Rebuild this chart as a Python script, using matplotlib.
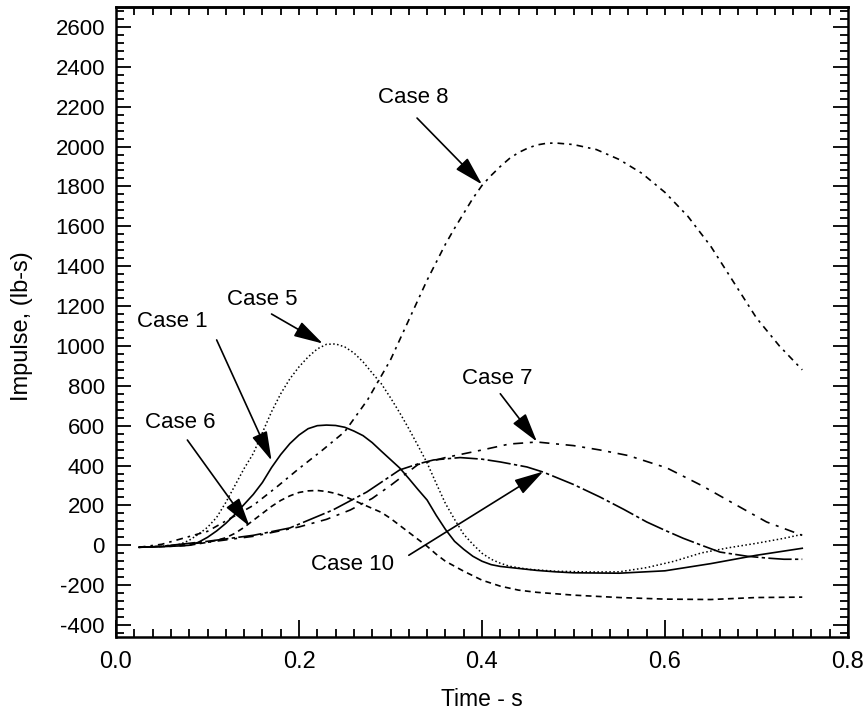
import numpy as np
import matplotlib
matplotlib.use("Agg")
import matplotlib.pyplot as plt
from matplotlib.ticker import MultipleLocator, NullFormatter

plt.rcParams["axes.unicode_minus"] = False

# ---- data: time (s) and impulse (lb-s) for each case ----
t_case1 = [0.025, 0.05, 0.07, 0.08, 0.09, 0.10, 0.11, 0.12, 0.13, 0.14, 0.15, 0.16, 0.17, 0.18, 0.19, 0.20,
           0.21, 0.22, 0.23, 0.24, 0.25, 0.26, 0.27, 0.28, 0.29, 0.30, 0.31, 0.32, 0.33, 0.34, 0.35, 0.36,
           0.37, 0.38, 0.39, 0.40, 0.41, 0.42, 0.44, 0.46, 0.48, 0.50, 0.55, 0.60, 0.65, 0.70, 0.75]
v_case1 = [-10, -7, -3, 0, 15, 40, 72, 110, 155, 205, 255, 315, 390, 455, 510, 553,
           585, 600, 603, 601, 592, 573, 550, 515, 472, 430, 388, 335, 280, 227, 150, 80,
           20, -20, -55, -80, -97, -106, -116, -126, -133, -138, -140, -128, -92, -50, -15]

t_case5 = [0.025, 0.05, 0.07, 0.08, 0.09, 0.10, 0.11, 0.12, 0.13, 0.14, 0.15, 0.16, 0.17, 0.18, 0.19, 0.20,
           0.21, 0.22, 0.23, 0.24, 0.25, 0.26, 0.27, 0.28, 0.29, 0.30, 0.31, 0.32, 0.33, 0.34, 0.35, 0.36,
           0.37, 0.38, 0.39, 0.40, 0.41, 0.42, 0.43, 0.45, 0.48, 0.52, 0.55, 0.58, 0.61, 0.64, 0.67, 0.70,
           0.73, 0.75]
v_case5 = [-10, -5, 5, 25, 55, 90, 140, 215, 300, 385, 460, 565, 670, 760, 835, 895,
           945, 985, 1008, 1010, 995, 965, 920, 864, 810, 740, 665, 585, 500, 413, 310, 210,
           130, 55, 5, -40, -70, -90, -105, -120, -130, -134, -133, -112, -80, -38, -12, 10,
           35, 55]

t_case6 = [0.025, 0.06, 0.08, 0.10, 0.11, 0.12, 0.13, 0.14, 0.15, 0.16, 0.17, 0.18, 0.19, 0.20, 0.21, 0.22,
           0.23, 0.24, 0.25, 0.26, 0.27, 0.28, 0.29, 0.30, 0.31, 0.32, 0.33, 0.34, 0.35, 0.36, 0.37, 0.38,
           0.40, 0.42, 0.44, 0.46, 0.50, 0.55, 0.60, 0.65, 0.70, 0.75]
v_case6 = [-10, -5, 0, 15, 25, 38, 60, 90, 125, 160, 195, 225, 248, 265, 273, 275,
           270, 260, 245, 225, 205, 185, 165, 135, 100, 65, 30, -5, -45, -80, -105, -130,
           -175, -205, -225, -236, -250, -262, -270, -272, -262, -260]

t_case7 = [0.025, 0.05, 0.10, 0.15, 0.20, 0.23, 0.256, 0.28, 0.30, 0.33, 0.36, 0.40, 0.43, 0.46, 0.50, 0.529,
           0.56, 0.602, 0.64, 0.674, 0.711, 0.75]
v_case7 = [-10, -5, 15, 45, 92, 130, 177, 235, 300, 405, 440, 478, 508, 518, 500, 478,
           450, 388, 300, 212, 117, 50]

t_case8 = [0.025, 0.05, 0.10, 0.125, 0.15, 0.175, 0.20, 0.225, 0.25, 0.275, 0.29, 0.30, 0.31, 0.32, 0.33, 0.34,
           0.35, 0.36, 0.37, 0.38, 0.39, 0.40, 0.41, 0.42, 0.43, 0.44, 0.45, 0.46, 0.47, 0.48, 0.50, 0.525,
           0.55, 0.575, 0.60, 0.625, 0.65, 0.675, 0.70, 0.725, 0.75]
v_case8 = [-10, 5, 70, 135, 200, 290, 385, 475, 570, 730, 850, 930, 1030, 1130, 1230, 1330,
           1420, 1510, 1590, 1665, 1740, 1805, 1855, 1900, 1940, 1970, 1992, 2008, 2016, 2018, 2010, 1985,
           1935, 1865, 1770, 1650, 1500, 1320, 1140, 1000, 880]

t_case10 = [0.025, 0.05, 0.10, 0.15, 0.19, 0.237, 0.274, 0.31, 0.33, 0.347, 0.376, 0.40, 0.42, 0.449, 0.467, 0.50,
            0.529, 0.555, 0.58, 0.60, 0.62, 0.64, 0.66, 0.69, 0.711, 0.73, 0.75]
v_case10 = [-10, -5, 20, 50, 87, 177, 267, 378, 408, 428, 440, 432, 418, 393, 367, 305,
            242, 180, 117, 75, 35, 0, -34, -55, -64, -70, -70]

x_ticks = [0.0, 0.2, 0.4, 0.6, 0.8]
x_tick_labels = ["0.0", "0.2", "0.4", "0.6", "0.8"]
y_ticks = list(range(-400, 2601, 200))

# annotation text, text position, arrow tail and arrow tip (data coordinates)
labels = ["Case 8", "Case 5", "Case 1", "Case 6", "Case 7", "Case 10"]
label_xy = [(0.325, 2244), (0.160, 1235), (0.061, 1125), (0.070, 618), (0.417, 839), (0.259, -94)]
arrow_from = [(0.329, 2143), (0.170, 1160), (0.110, 1030), (0.078, 528), (0.420, 760), (0.320, -50)]
arrow_to = [(0.400, 1810), (0.226, 1012), (0.170, 425), (0.146, 95), (0.460, 520), (0.467, 370)]

fig = plt.figure(figsize=(8.68, 7.18), dpi=100)
ax = fig.add_axes([116 / 868, 1 - 637 / 718, (848 - 116) / 868, (637 - 7) / 718])

ax.plot(t_case1, v_case1, color="black", lw=1.2, ls="-")
ax.plot(t_case5, v_case5, color="black", lw=1.1, ls=(0, (1, 1.6)))
ax.plot(t_case6, v_case6, color="black", lw=1.2, ls=(0, (3.5, 2.6)))
ax.plot(t_case7, v_case7, color="black", lw=1.2, ls=(0, (6, 4, 1.8, 4)))
ax.plot(t_case8, v_case8, color="black", lw=1.2, ls=(0, (4, 3, 1.5, 3)))
ax.plot(t_case10, v_case10, color="black", lw=1.2, ls=(0, (14, 2, 2, 2)))

for txt, pxy, a0, a1 in zip(labels, label_xy, arrow_from, arrow_to):
    ax.text(pxy[0], pxy[1], txt, ha="center", va="center", fontsize=16,
            family=["Liberation Sans", "DejaVu Sans"], color="black")
    ax.annotate("", xy=a1, xytext=a0,
                arrowprops=dict(arrowstyle="-|>,head_length=0.9,head_width=0.25",
                                mutation_scale=20, color="black", lw=1.2,
                                shrinkA=0, shrinkB=0))

ax.set_xlim(0, 0.8)
ax.set_ylim(-460, 2700)
ax.set_xticks(x_ticks)
ax.set_xticklabels(x_tick_labels)
ax.set_yticks(y_ticks)
ax.xaxis.set_minor_locator(MultipleLocator(0.02))
ax.yaxis.set_minor_locator(MultipleLocator(40))

for s in ax.spines.values():
    s.set_linewidth(1.8)

ax.tick_params(which="both", direction="in", top=False, right=True, width=1.3, color="black")
ax.tick_params(which="major", axis="x", length=12, pad=10)
ax.tick_params(which="major", axis="y", length=11, pad=8)
ax.tick_params(which="minor", length=6)

# short uniform ticks along the top edge
top = ax.secondary_xaxis("top")
top.set_xticks(np.arange(0.02, 0.8, 0.02))
top.xaxis.set_major_formatter(NullFormatter())
top.tick_params(direction="in", length=6, width=1.3)
top.spines["top"].set_linewidth(1.8)

for lab in ax.get_yticklabels():
    lab.set_family(["Liberation Sans", "DejaVu Sans"])
    lab.set_fontsize(16)
for lab in ax.get_xticklabels():
    lab.set_family(["Liberation Sans", "DejaVu Sans"])
    lab.set_fontsize(17)

fig.text(482 / 868, 1 - 700 / 718, "Time - s", ha="center", va="center",
         fontsize=16.5, family=["Liberation Sans", "DejaVu Sans"])
fig.text(22 / 868, 1 - 326 / 718, "Impulse, (lb-s)", ha="center", va="center",
         rotation=90, fontsize=17, family=["Liberation Sans", "DejaVu Sans"])

fig.savefig("out.png", dpi=100, facecolor="white")
